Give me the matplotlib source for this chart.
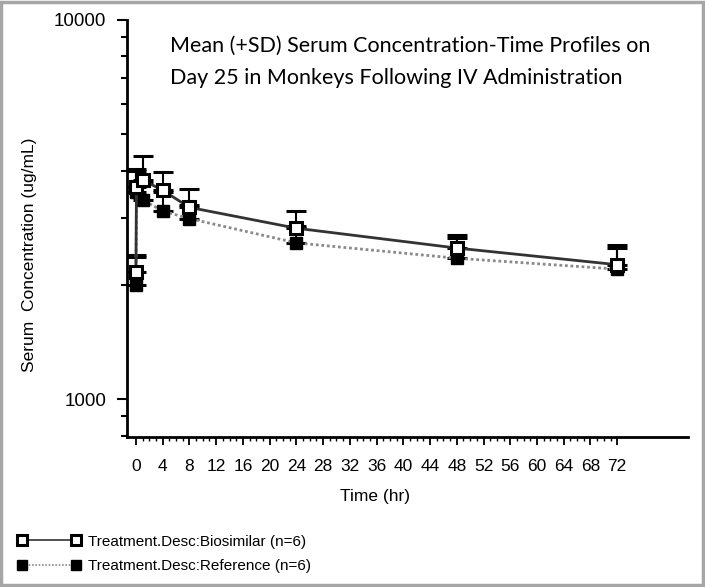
import numpy as np
import matplotlib
matplotlib.use("Agg")
import matplotlib.pyplot as plt
from matplotlib.ticker import FixedLocator, LogLocator, NullFormatter
from matplotlib.patches import Rectangle

# sampling times (hr) and serum concentrations (ug/mL)
time = [0, 0.083, 1, 4, 8, 24, 48, 72]
bio_mean = [2160, 3620, 3780, 3550, 3200, 2820, 2500, 2260]
bio_upper = [2390, 4050, 4360, 3960, 3580, 3140, 2710, 2550]
ref_mean = [2000, 3520, 3350, 3130, 2990, 2580, 2350, 2200]
ref_upper = [2370, 3980, 3700, 3520, 3250, 2860, 2660, 2500]

x_ticks = list(range(0, 73, 4))
y_ticks = [1000, 10000]
title = ("Mean (+SD) Serum Concentration-Time Profiles on\n"
         "Day 25 in Monkeys Following IV Administration")
labels = ["Treatment.Desc:Biosimilar (n=6)", "Treatment.Desc:Reference (n=6)"]

plt.rcParams["font.family"] = ["Liberation Sans", "DejaVu Sans"]

fig = plt.figure(figsize=(7.05, 5.87), dpi=100)
ax = fig.add_axes([0.180, 0.2555, 0.796, 0.711])

bio_err = [np.zeros(len(time)), np.array(bio_upper) - np.array(bio_mean)]
ref_err = [np.zeros(len(time)), np.array(ref_upper) - np.array(ref_mean)]

ax.errorbar(time, ref_mean, yerr=ref_err, fmt="none", ecolor="black",
            elinewidth=1.5, capsize=7, capthick=2.2, zorder=2)
ax.errorbar(time, bio_mean, yerr=bio_err, fmt="none", ecolor="black",
            elinewidth=1.5, capsize=7, capthick=2.2, zorder=3)
ax.plot(time, ref_mean, color="#8a8a8a", ls=(0, (1, 1)), lw=2,
        marker="s", ms=8.5, mfc="black", mec="black", zorder=4,
        label=labels[1])
ax.plot(time, bio_mean, color="#333333", ls="-", lw=2,
        marker="s", ms=8.5, mfc="white", mec="black", mew=2.2, zorder=5,
        label=labels[0])

ax.set_yscale("log")
ax.set_ylim(794, 10000)
ax.set_xlim(-1.35, 82.6)

ax.yaxis.set_major_locator(FixedLocator(y_ticks))
ax.yaxis.set_minor_locator(LogLocator(base=10, subs=np.arange(2, 10)))
ax.yaxis.set_minor_formatter(NullFormatter())
ax.set_yticklabels([str(v) for v in y_ticks])

ax.xaxis.set_major_locator(FixedLocator(x_ticks))
ax.xaxis.set_minor_locator(FixedLocator(range(0, 73)))
ax.set_xticklabels([str(v) for v in x_ticks])

ax.tick_params(axis="x", which="major", direction="out", length=6, width=1.3,
               labelsize=12.5, pad=10)
ax.tick_params(axis="x", which="minor", direction="out", length=3, width=1)
ax.tick_params(axis="y", which="major", direction="out", length=7, width=1.5,
               labelsize=13.5, pad=8)
ax.tick_params(axis="y", which="minor", direction="out", length=4, width=1.5)

for side in ["top", "right"]:
    ax.spines[side].set_visible(False)
for side in ["left", "bottom"]:
    ax.spines[side].set_linewidth(2)

ax.set_xlabel("Time (hr)", fontsize=12.5)
ax.xaxis.set_label_coords(0.442, -0.125)

fig.text(30 / 705, 1 - 255 / 587, "Serum  Concentration (ug/mL)", rotation=90,
         ha="center", va="center", fontsize=12.5)

ax.text(170 / 705, 1 - 36 / 587, title, transform=fig.transFigure,
        ha="left", va="top", fontsize=15.5, family=["Lato", "DejaVu Sans"],
        linespacing=1.75)

h, l = ax.get_legend_handles_labels()
leg = fig.legend(h[::-1], l[::-1], loc="upper left",
                 bbox_to_anchor=(4 / 705, 1 - 521 / 587), frameon=False,
                 numpoints=2, handlelength=4.1, handletextpad=0.5,
                 labelspacing=0.7, markerscale=0.85,
                 prop={"size": 11})
for lh in leg.legend_handles:
    lh.set_linewidth(1.2)

fig.patches.append(Rectangle((0.002, 0.003), 0.995, 0.994, fill=False,
                             edgecolor="#a6a6a6", lw=2.5,
                             transform=fig.transFigure, figure=fig))

fig.savefig("out.png", dpi=100)
